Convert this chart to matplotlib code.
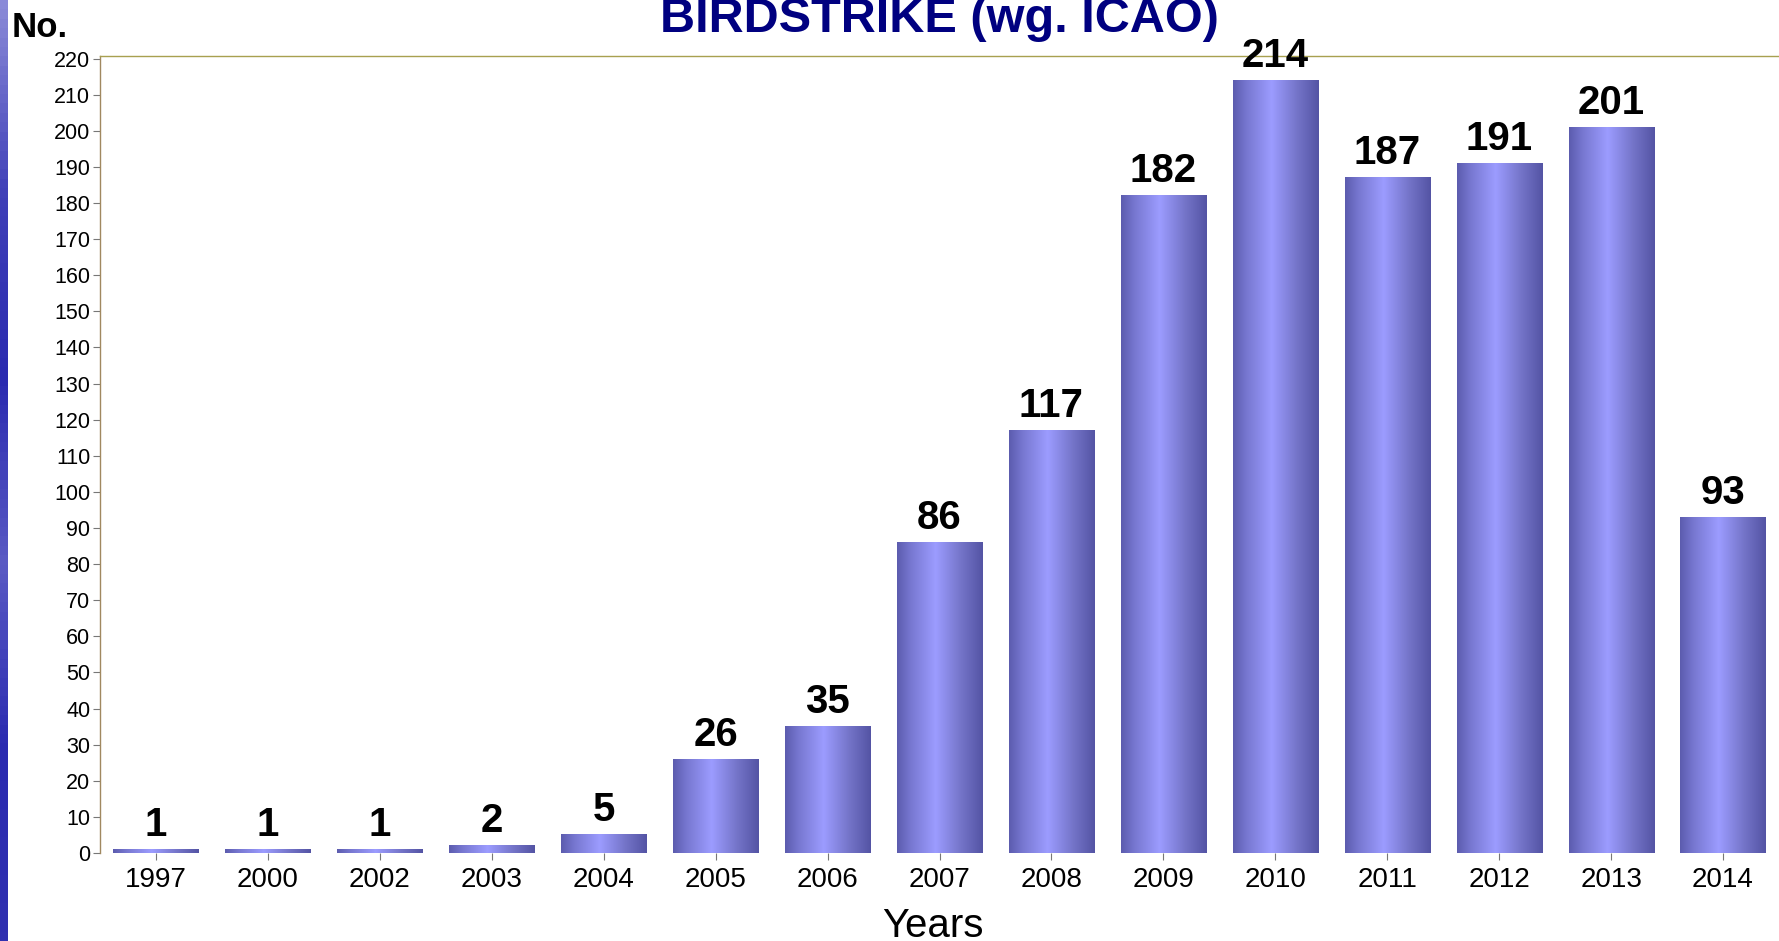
import numpy as np
import matplotlib.pyplot as plt
from matplotlib.colors import LinearSegmentedColormap

years = ['1997', '2000', '2002', '2003', '2004', '2005', '2006', '2007',
         '2008', '2009', '2010', '2011', '2012', '2013', '2014']
strikes = [1, 1, 1, 2, 5, 26, 35, 86, 117, 182, 214, 187, 191, 201, 93]
yticks = list(range(0, 221, 10))

plt.rcParams['font.family'] = ['Liberation Sans', 'DejaVu Sans']

fig = plt.figure(figsize=(17.79, 9.41), dpi=100)
ax = fig.add_axes([100/1779, 1-853/941, 1-100/1779, (853-56)/941])

# bars: drawn empty, then filled with a cylinder-like shading
x = np.arange(len(years))
bars = ax.bar(x, strikes, width=0.76, color='none', edgecolor='none')
shade = LinearSegmentedColormap.from_list(
    'shade', [(0, '#5c5cae'), (0.15, '#7676cf'), (0.45, '#9c9cff'),
              (0.75, '#7474c8'), (1, '#5454a4')])
grad = np.linspace(0, 1, 256).reshape(1, -1)
for b in bars:
    x0, y0 = b.get_xy()
    ax.imshow(grad, extent=[x0, x0 + b.get_width(), y0, y0 + b.get_height()],
              cmap=shade, aspect='auto', zorder=2, interpolation='bilinear')

ax.bar_label(bars, labels=[str(v) for v in strikes], padding=4,
             fontsize=29, fontweight='bold', color='black')

ax.set_xlim(-0.5, len(years) - 0.5)
ax.set_ylim(0, 220.7)
ax.set_yticks(yticks)
ax.set_xticks(x)
ax.set_xticklabels(years)
ax.tick_params(axis='y', labelsize=15.5, length=5, width=0.8, color='#777777', pad=2)
ax.tick_params(axis='x', labelsize=20, length=5, width=0.8, color='#777777', pad=5)

for s in ['right', 'bottom']:
    ax.spines[s].set_visible(False)
ax.spines['left'].set_color('#a08860')
ax.spines['left'].set_linestyle((0, (2, 1)))
ax.spines['left'].set_linewidth(1)
ax.spines['top'].set_color('#a8a050')
ax.spines['top'].set_linestyle((0, (3, 1)))
ax.spines['top'].set_linewidth(1)

fig.text(939/1779, 1-32/941, 'BIRDSTRIKE (wg. ICAO)', ha='center', va='baseline',
         fontsize=35, fontweight='bold', color='#000080')
fig.text(12/1779, 1-37/941, 'No.', ha='left', va='baseline',
         fontsize=25, fontweight='bold', color='black')
fig.text(933/1779, 1-937/941, 'Years', ha='center', va='baseline',
         fontsize=29, color='black')

# blue strip on the left edge (slide background)
sax = fig.add_axes([0, 0, 7/1779, 1])
strip = LinearSegmentedColormap.from_list(
    'strip', ['#8a8ad8', '#4040b8', '#2a2ab0', '#5a5ac4', '#2a2ab0', '#3030b0'])
sax.imshow(np.linspace(0, 1, 100).reshape(-1, 1), cmap=strip, aspect='auto')
sax.axis('off')

fig.savefig('out.png', dpi=100)
